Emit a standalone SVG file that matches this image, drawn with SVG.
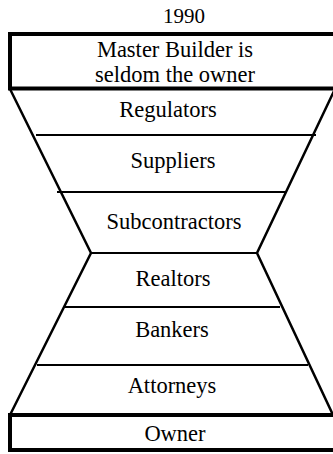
<svg xmlns="http://www.w3.org/2000/svg" width="333" height="454" viewBox="0 0 333 454" font-family="Liberation Serif, Times New Roman, serif">
<style>
text{font-family:"Liberation Serif","Times New Roman",serif;font-size:22.5px;fill:#000;text-anchor:middle}
.box{fill:#fff;stroke:#000;stroke-width:4}
.side{fill:none;stroke:#000;stroke-width:2.5;stroke-linejoin:miter}
.div{stroke:#000;stroke-width:2.2}
</style>
<rect width="333" height="454" fill="#fff"/>
<g id="title"><text x="184" y="23" style="font-size:21px">1990</text></g>
<g id="funnel">
<path class="side" d="M10,89 L91,253 L10,415"/>
<path class="side" d="M335,89 L257,253 L333,415"/>
<line class="div" x1="91" y1="253" x2="257" y2="253"/>
</g>
<g id="master-builder">
<rect class="box" x="10" y="34" width="330" height="54.5"/>
<text x="175" y="57">Master Builder is</text>
<text x="175" y="82">seldom the owner</text>
</g>
<g id="regulators">
<text x="168" y="117">Regulators</text>
<line class="div" x1="36" y1="135" x2="316" y2="135"/>
</g>
<g id="suppliers">
<text x="173" y="168">Suppliers</text>
<line class="div" x1="57" y1="192" x2="285" y2="192"/>
</g>
<g id="subcontractors"><text x="174" y="229">Subcontractors</text></g>
<g id="realtors">
<text x="173" y="286">Realtors</text>
<line class="div" x1="65" y1="307" x2="280" y2="307"/>
</g>
<g id="bankers">
<text x="172" y="337">Bankers</text>
<line class="div" x1="37" y1="365" x2="308" y2="365"/>
</g>
<g id="attorneys"><text x="172" y="393">Attorneys</text></g>
<g id="owner">
<rect class="box" x="10" y="415" width="330" height="35"/>
<text x="175" y="441">Owner</text>
</g>
</svg>
